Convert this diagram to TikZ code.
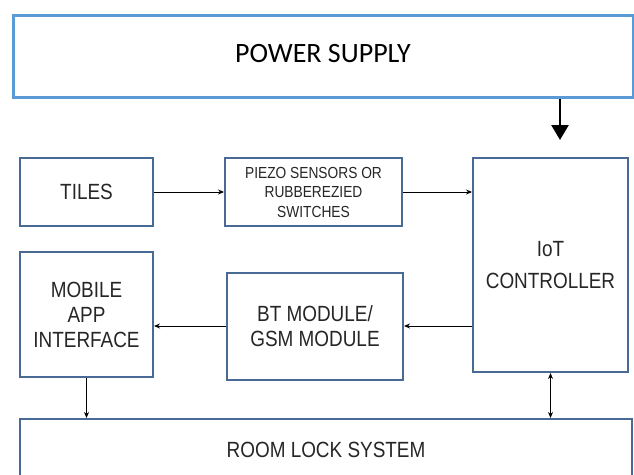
\documentclass[tikz,border=0pt]{standalone}
\usepackage{fontspec}
\usetikzlibrary{arrows.meta}
\newfontfamily\estreita{Liberation Sans}[FakeStretch=0.86]
\newfontfamily\calibri{Carlito}
\definecolor{bordaazul}{HTML}{4A6A96}
\definecolor{azulclaro}{HTML}{5B9BD5}
\definecolor{texto}{HTML}{262626}
\tikzset{
	bloco/.style={draw=bordaazul, line width=2pt, fill=white, text=texto, align=center,
		inner sep=0pt, font=\estreita\fontsize{22}{25}\selectfont},
	seta/.style={line width=0.9pt, -{Stealth[length=6pt,width=5pt]}},
}
\begin{document}
\begin{tikzpicture}[x=1pt,y=-1pt]
	\useasboundingbox (0,0) rectangle (634,474);
	\clip (0,0) rectangle (634,474);

% blocos
	\node[draw=azulclaro, line width=3pt, minimum width=620pt, minimum height=82pt,
		font=\calibri\fontsize{28}{30}\selectfont] (fonte) at (323,56) {\raisebox{6pt}{POWER SUPPLY}};
	\node[bloco, minimum width=133pt, minimum height=68pt] (pisos) at (86.5,192) {TILES};
	\node[bloco, minimum width=177pt, minimum height=68pt, font=\estreita\fontsize{16}{19.5}\selectfont]
		(sensores) at (313.5,192) {PIEZO SENSORS OR\\RUBBEREZIED\\SWITCHES};
	\node[bloco, minimum width=155pt, minimum height=214pt] (iot) at (550.5,265)
		{IoT\\[7pt]CONTROLLER};
	\node[bloco, minimum width=133pt, minimum height=125pt] (app) at (86.5,314.5)
		{MOBILE\\APP\\INTERFACE};
	\node[bloco, minimum width=176pt, minimum height=107pt] (modulo) at (315,326)
		{BT MODULE/\\GSM MODULE};
	\node[bloco, minimum width=612pt, minimum height=62pt] (fechadura) at (326,450)
		{ROOM LOCK SYSTEM};

% ligações
	\draw[line width=2.5pt, -{Triangle[length=15pt,width=17pt]}]
		([xshift=9.5pt]fonte.south -| iot.north) -- ([xshift=9.5pt,yshift=17pt]iot.north);
	\draw[seta] (pisos.east) -- (sensores.west);
	\draw[seta] (sensores.east) -- (sensores.east -| iot.west);
	\draw[seta] (iot.west |- modulo.east) -- (modulo.east);
	\draw[seta] (modulo.west) -- (app.east |- modulo.west);
	\draw[seta] (app.south) -- (app.south |- fechadura.north);
	\draw[seta, {Stealth[length=6pt,width=5pt]}-{Stealth[length=6pt,width=5pt]}]
		(iot.south) -- (iot.south |- fechadura.north);

\end{tikzpicture}
\end{document}
